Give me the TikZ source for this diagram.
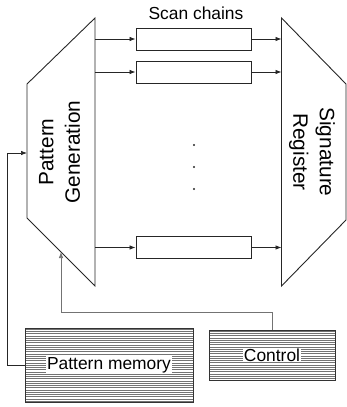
\documentclass[tikz,border=0pt]{standalone}
\usepackage{fontspec}
\setmainfont{Liberation Sans}
\usetikzlibrary{arrows.meta}
\begin{document}
\begin{tikzpicture}[x=1pt,y=-1pt,
  outline/.style={draw=black!85,line width=0.9pt},
  chainbox/.style={draw=black!85,line width=0.9pt,minimum width=115pt,minimum height=22pt,inner sep=0pt},
  membox/.style={draw=black!80,line width=1pt,inner sep=0pt},
  arr/.style={-{Latex[length=6pt,width=4.5pt]},line width=0.7pt,draw=black!85},
  grayarr/.style={-{Latex[length=6pt,width=4.5pt]},line width=0.7pt,draw=black!55},
  hatch/.style={draw=black!55,line width=0.45pt},
  biglabel/.style={font=\fontsize{20.8}{26.5}\selectfont,align=center,inner sep=0pt},
  smalllabel/.style={font=\fontsize{17.4}{20}\selectfont,inner sep=1pt},
  dotmark/.style={fill=black!85,circle,inner sep=0pt,minimum size=2.2pt}
]
\useasboundingbox (0,0) rectangle (347,407);

% Pattern generation block
\draw[outline] (27,84) -- (95,18) -- (95,286) -- (27,218) -- cycle;
\node[biglabel,rotate=90] (pg) at (59.5,152) {Pattern\\Generation};
\coordinate (pgo1) at (95,39);
\coordinate (pgo2) at (95,72);
\coordinate (pgo3) at (95,247.5);
\coordinate (pgin) at (27,153);
\coordinate (pgbot) at (61,252);

% Signature register block
\draw[outline] (281.5,18) -- (346,84) -- (346,220) -- (281.5,286) -- cycle;
\node[biglabel,rotate=-90] (sr) at (312,152) {Signature\\Register};
\coordinate (sri1) at (281.5,39);
\coordinate (sri2) at (281.5,72);
\coordinate (sri3) at (281.5,247.5);

% Scan chains
\node[smalllabel] (sclabel) at (196,13) {Scan chains};
\node[chainbox] (c1) at (193.5,39) {};
\node[chainbox] (c2) at (193.5,72) {};
\node[chainbox] (c3) at (193.5,247.5) {};
\draw[arr] (pgo1) -- (c1.west);
\draw[arr] (pgo2) -- (c2.west);
\draw[arr] (pgo3) -- (c3.west);
\draw[arr] (c1.east) -- (sri1);
\draw[arr] (c2.east) -- (sri2);
\draw[arr] (c3.east) -- (sri3);

% dots
\node[dotmark] (d1) at (194,145) {};
\node[dotmark] (d2) at (194,167) {};
\node[dotmark] (d3) at (194,189) {};

% Pattern memory
\foreach \i in {0,...,32} \draw[hatch] (25,{329+\i*2.25}) -- (193,{329+\i*2.25});
\node[membox,minimum width=168pt,minimum height=74pt] (pm) at (109,365) {};
\node[smalllabel,fill=white] (pmlabel) at (pm.center) {Pattern memory};

% Control
\foreach \i in {0,...,21} \draw[hatch] (209,{331+\i*2.25}) -- (335,{331+\i*2.25});
\node[membox,minimum width=126pt,minimum height=50pt] (ctl) at (272,355) {};
\node[smalllabel,fill=white] (ctllabel) at (ctl.center) {Control};

% feedback connectors
\draw[arr] (pm.west) -- (7,365) -- (7,153) -- (pgin);
\coordinate (ctltop) at (272,330);
\draw[grayarr] (ctltop) -- (272,312) -- (61,312) -- (pgbot);
\end{tikzpicture}
\end{document}
